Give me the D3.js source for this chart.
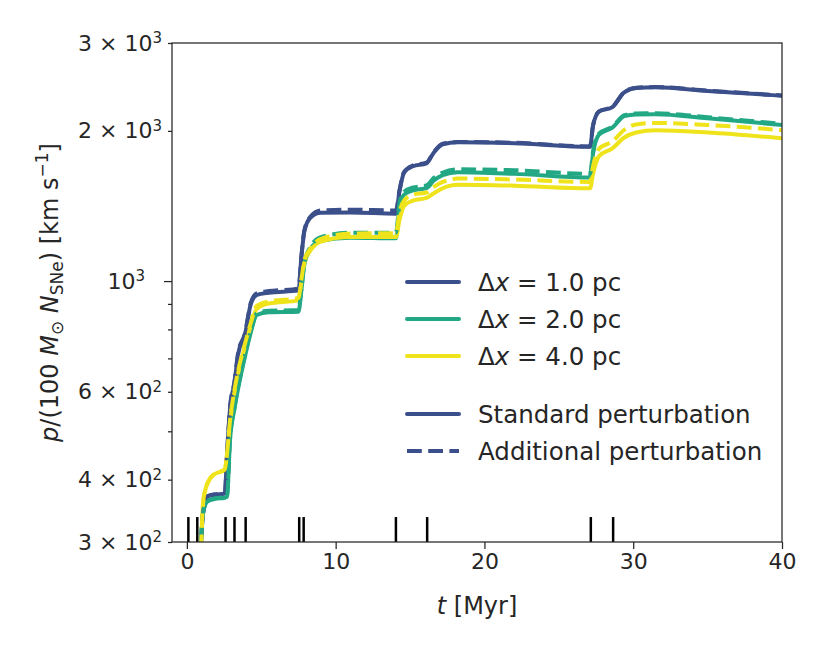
<!DOCTYPE html>
<html>
<head>
<meta charset="utf-8">
<script src="https://cdn.jsdelivr.net/npm/d3@7"></script>
<style>
  html, body { margin: 0; padding: 0; background: #fff; }
  svg { display: block; font-family: "DejaVu Sans", sans-serif; }
</style>
</head>
<body>
<svg id="chart" width="830" height="664"></svg>
<script>
// ---------------- data ----------------
const times = [0.95, 1.1, 1.4, 1.9, 2.55, 2.7, 2.9, 3.2, 3.45, 3.9, 4.3, 4.7, 5.5, 7.5, 7.7, 7.9, 8.3, 9.0, 11, 14.05, 14.3, 14.6, 15.2, 16.1, 16.6, 17.2, 18.2, 22, 27.1, 27.3, 27.7, 28.6, 29.4, 30.2, 31.5, 35, 40];

const dx1Standard   = [300, 345, 370, 373, 375, 450, 555, 625, 715, 780, 900, 938, 948, 957, 1120, 1260, 1340, 1370, 1372, 1365, 1520, 1650, 1700, 1722, 1810, 1880, 1897, 1890, 1858, 2050, 2185, 2232, 2390, 2437, 2445, 2405, 2352];
const dx1Additional = [300, 345, 371, 374, 376, 452, 558, 630, 720, 785, 905, 945, 955, 965, 1125, 1265, 1345, 1385, 1390, 1385, 1525, 1655, 1705, 1727, 1815, 1885, 1900, 1893, 1861, 2052, 2188, 2235, 2393, 2440, 2448, 2408, 2355];
const dx2Standard   = [300, 345, 362, 366, 368, 370, 480, 555, 610, 705, 790, 855, 866, 868, 960, 1080, 1160, 1205, 1222, 1218, 1420, 1490, 1520, 1535, 1590, 1630, 1652, 1640, 1612, 1800, 1965, 2030, 2140, 2158, 2160, 2120, 2055];
const dx2Additional = [300, 345, 363, 367, 369, 372, 482, 558, 615, 710, 795, 862, 872, 875, 970, 1090, 1170, 1225, 1250, 1250, 1440, 1510, 1540, 1555, 1610, 1650, 1675, 1668, 1640, 1820, 1975, 2040, 2150, 2168, 2170, 2130, 2065];
const dx4Standard   = [290, 362, 394, 411, 418, 450, 520, 600, 655, 740, 815, 880, 902, 915, 1000, 1090, 1150, 1200, 1225, 1225, 1330, 1415, 1450, 1468, 1500, 1535, 1560, 1553, 1534, 1640, 1780, 1845, 1940, 1985, 2005, 1985, 1933];
const dx4Additional = [290, 362, 395, 412, 419, 452, 525, 605, 662, 748, 825, 892, 910, 925, 1010, 1100, 1160, 1215, 1245, 1248, 1380, 1450, 1490, 1505, 1545, 1580, 1605, 1598, 1580, 1700, 1840, 1905, 2010, 2060, 2075, 2055, 2007];

const snTimes = [0.1, 0.7, 2.6, 3.2, 3.95, 7.55, 7.85, 14.05, 16.15, 27.15, 28.65];

const resolutionLabels = ["Δx = 1.0 pc", "Δx = 2.0 pc", "Δx = 4.0 pc"];
const perturbationLabels = ["Standard perturbation", "Additional perturbation"];
const colors = ["#3b4f8b", "#22a884", "#efe31c"];

const xTicks = [0, 10, 20, 30, 40];
const yLabelTicks = [300, 400, 600, 1000, 2000, 3000];
const yTickMantissa = ["3 × 10", "4 × 10", "6 × 10", "10", "2 × 10", "3 × 10"];
const yTickExponent = ["2", "2", "2", "3", "3", "3"];
const yMinorTicks = [500, 700, 800, 900];

// ---------------- layout ----------------
const W = 830, H = 664;
const m = { left: 172, right: 48, top: 43, bottom: 122 };
const iw = W - m.left - m.right, ih = H - m.top - m.bottom;
const ink = "#262626";
const LW = 4, DASH = "14.8,6.4";

const svg = d3.select("#chart");
const g = svg.append("g").attr("transform", `translate(${m.left},${m.top})`);

const x = d3.scaleLinear().domain([-1, 40]).range([0, iw]);
const y = d3.scaleLog().domain([300, 3000]).range([ih, 0]);

g.append("clipPath").attr("id", "clip").append("rect")
  .attr("x", 0).attr("y", 0).attr("width", iw).attr("height", ih);

// ---------------- lines ----------------
const series = [
  { v: dx1Standard, c: colors[0], dash: null },
  { v: dx2Standard, c: colors[1], dash: null },
  { v: dx4Standard, c: colors[2], dash: null },
  { v: dx1Additional, c: colors[0], dash: DASH },
  { v: dx2Additional, c: colors[1], dash: DASH },
  { v: dx4Additional, c: colors[2], dash: DASH }
];

const line = d3.line()
  .x((d, i) => x(times[i]))
  .y(d => y(d))
  .curve(d3.curveMonotoneX);

const lines = g.append("g").attr("clip-path", "url(#clip)");
series.forEach(s => {
  lines.append("path")
    .attr("d", line(s.v))
    .attr("fill", "none")
    .attr("stroke", s.c)
    .attr("stroke-width", LW)
    .attr("stroke-linejoin", "round")
    .attr("stroke-dasharray", s.dash);
});

// ---------------- SN event markers ----------------
g.append("g").selectAll("line").data(snTimes).join("line")
  .attr("x1", d => x(d)).attr("x2", d => x(d))
  .attr("y1", ih).attr("y2", ih - 0.05 * ih)
  .attr("stroke", "#000").attr("stroke-width", 2.5);

// ---------------- axes ----------------
const xAxis = g.append("g").attr("transform", `translate(0,${ih})`)
  .call(d3.axisBottom(x).tickValues(xTicks).tickSize(7).tickPadding(4).tickFormat(d3.format("d")));
xAxis.selectAll("text").attr("font-size", 22).attr("fill", ink).attr("font-family", "DejaVu Sans");

const yAll = yLabelTicks.concat(yMinorTicks);
const yAxis = g.append("g")
  .call(d3.axisLeft(y).tickValues(yAll).tickSize(4).tickPadding(6).tickFormat(""));
yAxis.selectAll(".tick line").attr("x2", d => d === 1000 ? -8 : -4);
yAxis.selectAll(".tick text").each(function(d) {
  const idx = yLabelTicks.indexOf(d);
  const t = d3.select(this).attr("font-size", 22).attr("fill", ink).attr("font-family", "DejaVu Sans");
  if (idx < 0) return;
  if (d === 1000) t.attr("x", -27);
  t.text(null);
  t.append("tspan").text(yTickMantissa[idx]);
  t.append("tspan").attr("dy", "-0.5em").attr("font-size", 15).text(yTickExponent[idx]);
});

[xAxis, yAxis].forEach(a => {
  a.select(".domain").remove();
  a.selectAll(".tick line").attr("stroke", ink).attr("stroke-width", 1.25);
});

// frame
g.append("rect").attr("x", 0).attr("y", 0).attr("width", iw).attr("height", ih)
  .attr("fill", "none").attr("stroke", ink).attr("stroke-width", 1.25);

// ---------------- axis labels ----------------
const xl = svg.append("text")
  .attr("x", m.left + iw / 2).attr("y", 614)
  .attr("text-anchor", "middle").attr("font-size", 24).attr("fill", ink);
xl.append("tspan").attr("font-style", "italic").text("t");
xl.append("tspan").text(" [Myr]");

const yl = svg.append("text")
  .attr("transform", `translate(58,${m.top + ih / 2}) rotate(-90)`)
  .attr("text-anchor", "middle").attr("font-size", 24).attr("fill", ink);
yl.append("tspan").attr("font-style", "italic").text("p");
yl.append("tspan").text("/(100 ");
yl.append("tspan").attr("font-style", "italic").text("M");
yl.append("tspan").attr("font-size", 17).attr("dy", 5).text("⊙");
yl.append("tspan").attr("dy", -5).text("  ");
yl.append("tspan").attr("font-style", "italic").text("N");
yl.append("tspan").attr("font-size", 17).attr("dy", 5).text("SNe");
yl.append("tspan").attr("dy", -5).text(") [km s");
yl.append("tspan").attr("font-size", 17).attr("dy", -10).text("−1");
yl.append("tspan").attr("dy", 10).text("]");

// ---------------- legend ----------------
const legendRows = [
  { label: resolutionLabels[0], c: colors[0], dash: null, yy: 282 },
  { label: resolutionLabels[1], c: colors[1], dash: null, yy: 319 },
  { label: resolutionLabels[2], c: colors[2], dash: null, yy: 356 },
  { label: perturbationLabels[0], c: colors[0], dash: null, yy: 414 },
  { label: perturbationLabels[1], c: colors[0], dash: DASH, yy: 451 }
];
const lg = svg.append("g");
legendRows.forEach(r => {
  lg.append("line").attr("x1", 407).attr("x2", 459).attr("y1", r.yy).attr("y2", r.yy)
    .attr("stroke", r.c).attr("stroke-width", LW).attr("stroke-linecap", r.dash ? "butt" : "round")
    .attr("stroke-dasharray", r.dash);
  const t = lg.append("text").attr("x", 478).attr("y", r.yy).attr("dy", "0.36em")
    .attr("font-size", 24.5).attr("fill", ink);
  if (r.label.startsWith("Δx")) {
    t.append("tspan").text("Δ");
    t.append("tspan").attr("font-style", "italic").text("x");
    t.append("tspan").text(r.label.slice(2));
  } else {
    t.text(r.label);
  }
});
</script>
</body>
</html>
